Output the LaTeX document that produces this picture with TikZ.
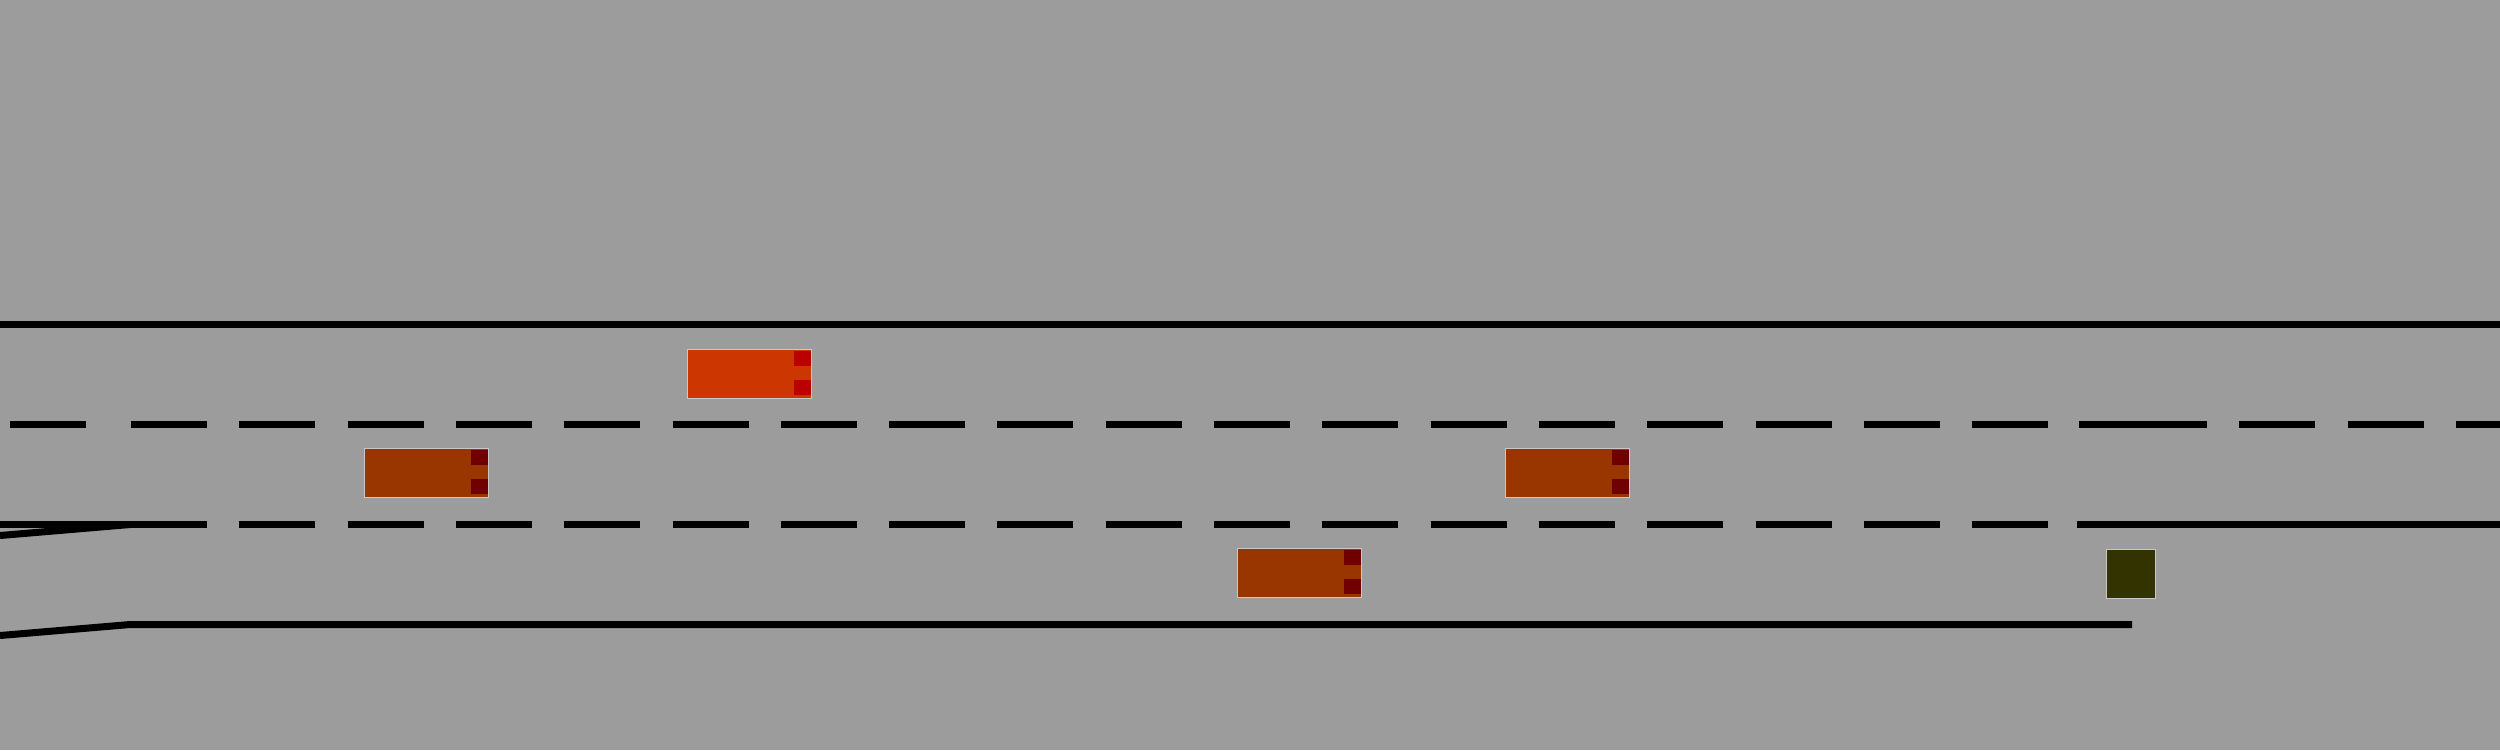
\documentclass[tikz,border=0pt]{standalone}
\usepackage{tikz}
\usetikzlibrary{positioning,calc}
\definecolor{asphalt}{RGB}{156,156,156}
\definecolor{rim}{RGB}{200,200,200}
\definecolor{egocar}{RGB}{204,54,0}
\definecolor{egolamp}{RGB}{187,0,0}
\definecolor{othercar}{RGB}{153,54,0}
\definecolor{otherlamp}{RGB}{112,0,0}
\definecolor{block}{RGB}{51,51,0}
\tikzset{
  solidln/.style  = {draw=black, line width=0.07cm},
  dashln/.style   = {draw=black, line width=0.07cm,
                     dash pattern=on 0.76cm off 0.3224cm},
  dashlnb/.style  = {draw=black, line width=0.07cm,
                     dash pattern=on 0.76cm off 0.325cm},
  vehicle/.style  = {rectangle, draw=rim, line width=0.01cm, inner sep=0pt,
                     minimum width=1.23cm, minimum height=0.49cm},
  lamp/.style     = {rectangle, inner sep=0pt, minimum width=0.17cm,
                     minimum height=0.15cm},
  obstacle/.style = {rectangle, draw=rim, line width=0.01cm, inner sep=0pt,
                     fill=block, minimum width=0.49cm, minimum height=0.49cm},
}
\begin{document}
\begin{tikzpicture}[x=0.01cm, y=-0.01cm]
%% ---- canvas ----------------------------------------------------------
\useasboundingbox (0,0) rectangle (2500,750);
\fill[asphalt] (0,0) rectangle (2500,750);

%% ---- road edges ------------------------------------------------------
\coordinate (topL) at (0,324.5);
\coordinate (topR) at (2500,324.5);
\draw[solidln] (topL) -- (topR);

\coordinate (botL) at (0,635.5);
\coordinate (botK) at (130,624.5);
\coordinate (botR) at (2132,624.5);
\draw[solidln] (botL) -- (botK) -- (botR);

%% ---- on-ramp taper ---------------------------------------------------
\coordinate (rampL) at (0,535.5);
\coordinate (rampK) at (130,524.5);
\draw[solidln] (rampL) -- (rampK);
\draw[solidln] (0,524.5) -- (133,524.5);

%% ---- lane markings ---------------------------------------------------
% upper divider
\draw[solidln] (10,424.5) -- (86,424.5);
\draw[dashln] (131,424.5) -- (2079,424.5);
\draw[solidln] (2079,424.5) -- (2207,424.5);
\draw[dashlnb] (2239,424.5) -- (2500,424.5);
% lower divider, solid again past the ramp
\draw[dashln] (131,524.5) -- (2079,524.5);
\draw[solidln] (2077,524.5) -- (2500,524.5);

%% ---- vehicles --------------------------------------------------------
\node[vehicle, fill=egocar]   (ego) at (749.5,374) {};
\node[vehicle, fill=othercar] (v1)  at (426.5,473) {};
\node[vehicle, fill=othercar] (v2)  at (1299.5,573) {};
\node[vehicle, fill=othercar] (v3)  at (1567.5,473) {};

\node[lamp, fill=egolamp, anchor=north east] (egoA)
  at ([yshift=-0.013cm]ego.north east) {};
\node[lamp, fill=egolamp, anchor=south east] (egoB)
  at ([yshift=0.035cm]ego.south east) {};
\foreach \v in {v1,v2,v3}{
  \node[lamp, fill=otherlamp, anchor=north east] (\v A)
    at ([yshift=-0.013cm]\v.north east) {};
  \node[lamp, fill=otherlamp, anchor=south east] (\v B)
    at ([yshift=0.035cm]\v.south east) {};
}

%% ---- stalled object at the ramp end ----------------------------------
\node[obstacle] (stop) at (2131,574) {};
\end{tikzpicture}
\end{document}
